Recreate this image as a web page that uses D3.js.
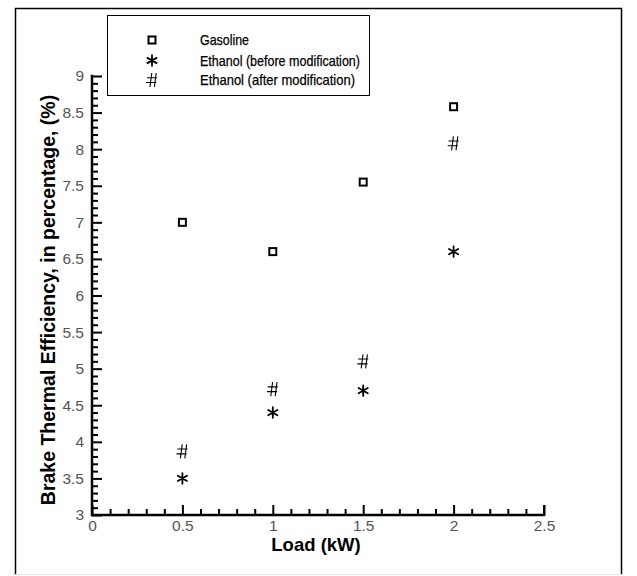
<!DOCTYPE html>
<html>
<head>
<meta charset="utf-8">
<script src="https://cdn.jsdelivr.net/npm/d3@7"></script>
<style>
  html, body { margin: 0; padding: 0; background: #fff; }
  svg { display: block; }
</style>
</head>
<body>
<script>
// Brake thermal efficiency vs. load for three fuel configurations
const loads = [0.5, 1.0, 1.5, 2.0];
const gasoline = [7.0, 6.6, 7.55, 8.58];
const ethanolBefore = [3.5, 4.4, 4.7, 6.6];
const ethanolAfter = [3.87, 4.72, 5.1, 8.08];
const seriesNames = ["Gasoline", "Ethanol (before modification)", "Ethanol (after modification)"];
const xTicks = [0, 0.5, 1, 1.5, 2, 2.5];
const yTicks = [3, 3.5, 4, 4.5, 5, 5.5, 6, 6.5, 7, 7.5, 8, 8.5, 9];
const xTickLabels = ["0", "0.5", "1", "1.5", "2", "2.5"];
const yTickLabels = ["3", "3.5", "4", "4.5", "5", "5.5", "6", "6.5", "7", "7.5", "8", "8.5", "9"];

const W = 637, H = 576;
const svg = d3.select("body").append("svg").attr("width", W).attr("height", H);

// page frame
svg.append("rect").attr("x", 0).attr("y", 0).attr("width", W).attr("height", H).attr("fill", "#fff");
svg.append("path")
  .attr("d", "M15.5,575 L15.5,8.5 L621.5,8.5 L621.5,575")
  .attr("fill", "none").attr("stroke", "#000").attr("stroke-width", 1.5);
svg.append("line").attr("x1", 15).attr("x2", 622).attr("y1", 574.5).attr("y2", 574.5)
  .attr("stroke", "#e6e6e6").attr("stroke-width", 1);

const x = d3.scaleLinear().domain([0, 2.5]).range([92, 544]);
const y = d3.scaleLinear().domain([3, 9]).range([515, 76]);

const tickFont = "'Liberation Sans', Arial, sans-serif";

// minor ticks
const xMinor = d3.range(0, 26).map(i => i / 10).filter(v => Math.abs(v * 2 - Math.round(v * 2)) > 1e-6);
const yMinor = d3.range(30, 91).map(i => i / 10).filter(v => Math.abs(v * 2 - Math.round(v * 2)) > 1e-6);

const gxMinor = svg.append("g").attr("transform", `translate(0,${y(3)})`)
  .call(d3.axisBottom(x).tickValues(xMinor).tickSize(-6).tickFormat(""));
const gyMinor = svg.append("g").attr("transform", `translate(${x(0)},0)`)
  .call(d3.axisLeft(y).tickValues(yMinor).tickSize(-6).tickFormat(""));
[gxMinor, gyMinor].forEach(g => {
  g.select(".domain").remove();
  g.selectAll(".tick line").attr("stroke", "#000").attr("stroke-width", 2);
});

// major ticks + labels
const gx = svg.append("g").attr("transform", `translate(0,${y(3)})`)
  .call(d3.axisBottom(x).tickValues(xTicks).tickSize(-10).tickPadding(5)
    .tickFormat((d, i) => xTickLabels[i]));
const gy = svg.append("g").attr("transform", `translate(${x(0)},0)`)
  .call(d3.axisLeft(y).tickValues(yTicks).tickSize(-10).tickPadding(8)
    .tickFormat((d, i) => yTickLabels[i]));
[gx, gy].forEach(g => {
  g.select(".domain").remove();
  g.selectAll(".tick line").attr("stroke", "#000").attr("stroke-width", 2);
  g.selectAll(".tick text").attr("fill", "#555").attr("font-family", tickFont)
    .attr("font-size", 15.5);
});

// axis lines
svg.append("path")
  .attr("d", `M${x(0)},${y(9)} L${x(0)},${y(3)} L${x(2.5)},${y(3)}`)
  .attr("fill", "none").attr("stroke", "#000").attr("stroke-width", 2.5)
  .attr("stroke-linecap", "square");
svg.append("line").attr("x1", x(2.5)).attr("x2", x(2.5)).attr("y1", y(3)).attr("y2", y(3) - 10)
  .attr("stroke", "#000").attr("stroke-width", 2);

// axis titles
svg.append("text")
  .attr("x", 316).attr("y", 551)
  .attr("text-anchor", "middle")
  .attr("font-family", tickFont).attr("font-weight", "bold").attr("font-size", 18.5)
  .attr("fill", "#000")
  .text("Load (kW)");
svg.append("text")
  .attr("transform", "translate(55,300) rotate(-90)")
  .attr("text-anchor", "middle")
  .attr("font-family", tickFont).attr("font-weight", "bold").attr("font-size", 19.5)
  .attr("fill", "#000")
  .text("Brake Thermal Efficiency, in percentage, (%)");

// marker painters
function drawSquare(g) {
  g.append("rect").attr("x", -3.5).attr("y", -3.5).attr("width", 7).attr("height", 7)
    .attr("fill", "none").attr("stroke", "#000").attr("stroke-width", 2);
}
function drawStar(g) {
  const r = 5.3;
  const angles = [90, 30, -30];
  const d = angles.map(a => {
    const t = a * Math.PI / 180;
    const dx = r * Math.cos(t), dy = r * Math.sin(t);
    return `M${-dx},${dy} L${dx},${-dy}`;
  }).join(" ");
  g.append("path").attr("d", d).attr("stroke", "#000").attr("stroke-width", 1.8)
    .attr("stroke-linecap", "round").attr("fill", "none");
}
function drawHash(g) {
  const d = "M-1.5,7 L0.3,-7 M2.9,7 L4.7,-7 M-4.6,-2.3 L5.6,-2.3 M-5.4,2.5 L4.8,2.5";
  g.append("path").attr("d", d).attr("stroke", "#000").attr("stroke-width", 1.1)
    .attr("fill", "none").attr("transform", "translate(-0.5,0)");
}
const painters = [drawSquare, drawStar, drawHash];
const seriesValues = [gasoline, ethanolBefore, ethanolAfter];

seriesValues.forEach((vals, si) => {
  svg.append("g").selectAll("g").data(loads.map((l, i) => ({ l, v: vals[i] })))
    .join("g")
    .attr("transform", d => `translate(${x(d.l)},${y(d.v)})`)
    .each(function () { painters[si](d3.select(this)); });
});

// legend
const lg = svg.append("g");
lg.append("rect").attr("x", 107.5).attr("y", 15.5).attr("width", 262).attr("height", 80)
  .attr("fill", "#fff").attr("stroke", "#000").attr("stroke-width", 1);
const rowY = [40, 60.5, 80];
const legendWidths = [49, 160, 155];
seriesNames.forEach((name, i) => {
  const g = lg.append("g").attr("transform", `translate(152,${rowY[i]})`);
  painters[i](g);
  lg.append("text").attr("x", 200).attr("y", rowY[i]).attr("dy", "0.36em")
    .attr("font-family", tickFont).attr("font-size", 14.5).attr("fill", "#000")
    .attr("stroke", "#000").attr("stroke-width", 0.25)
    .attr("textLength", legendWidths[i]).attr("lengthAdjust", "spacingAndGlyphs")
    .text(name);
});
</script>
</body>
</html>
